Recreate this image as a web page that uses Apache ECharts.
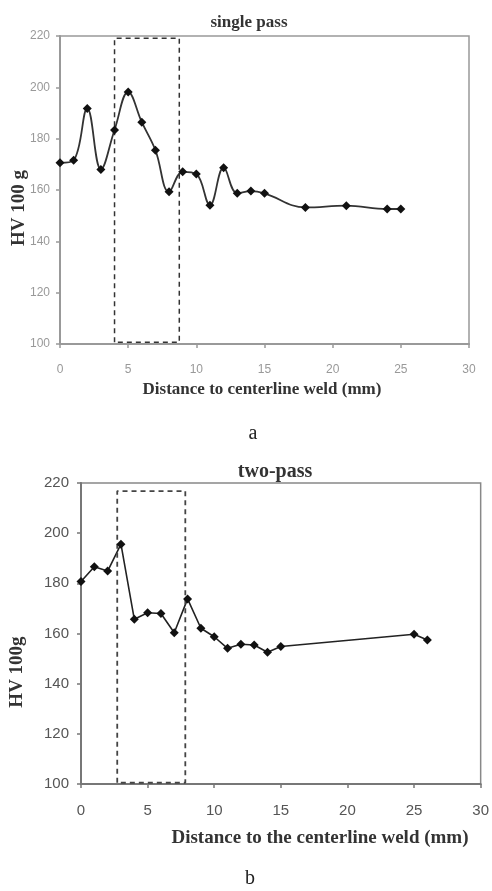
<!DOCTYPE html>
<html>
<head>
<meta charset="utf-8">
<script src="https://cdn.jsdelivr.net/npm/echarts@6/dist/echarts.min.js"></script>
<style>
  html, body { margin: 0; padding: 0; background: #fff; }
  #chart { width: 492px; height: 891px; }
</style>
</head>
<body>
<div id="chart"></div>
<script>
// single pass
const distA = [0, 1, 2, 3, 4, 5, 6, 7, 8, 9, 10, 11, 12, 13, 14, 15, 18, 21, 24, 25];
const hvA = [170.6, 171.6, 191.8, 168, 183.4, 198.2, 186.4, 175.5, 159.3, 167.1, 166.2, 154.1, 168.7, 158.7, 159.6, 158.7, 153.2, 153.9, 152.6, 152.6];
const boxA = [[4, 100.7], [4, 219.1], [8.75, 219.1], [8.75, 100.7], [4, 100.7]];

// two-pass
const distB = [0, 1, 2, 3, 4, 5, 6, 7, 8, 9, 10, 11, 12, 13, 14, 15, 25, 26];
const hvB = [180.7, 186.6, 184.9, 195.6, 165.7, 168.3, 168, 160.3, 173.8, 162.1, 158.7, 154.1, 155.7, 155.4, 152.5, 154.8, 159.7, 157.4];
const boxB = [[2.72, 100.5], [2.72, 216.8], [7.83, 216.8], [7.83, 100.5], [2.72, 100.5]];

const serif = '"Liberation Serif", "DejaVu Serif", serif';
const sans = '"Liberation Sans", Arial, sans-serif';

function pairs(xs, ys) {
    return xs.map((x, i) => [x, ys[i]]);
}

function xAxisOf(gridIndex, labelColor, labelSize, lineColor, margin) {
    return {
        type: 'value', gridIndex: gridIndex, min: 0, max: 30, interval: 5,
        axisLine: { show: true, onZero: false, lineStyle: { color: lineColor, width: 2 } },
        axisTick: { show: true, inside: false, length: 4, lineStyle: { color: lineColor, width: 1.5 } },
        axisLabel: { color: labelColor, fontSize: labelSize, fontFamily: sans, margin: margin },
        splitLine: { show: false }
    };
}

function yAxisOf(gridIndex, labelColor, labelSize, lineColor, margin) {
    return {
        type: 'value', gridIndex: gridIndex, min: 100, max: 220, interval: 20,
        axisLine: { show: true, lineStyle: { color: lineColor, width: 2 } },
        axisTick: { show: true, inside: false, length: 4, lineStyle: { color: lineColor, width: 1.5 } },
        axisLabel: { color: labelColor, fontSize: labelSize, fontFamily: sans, margin: margin },
        splitLine: { show: false }
    };
}

const myChart = echarts.init(document.getElementById('chart'));
var option = {
    animation: false,
    backgroundColor: '#fff',
    title: [
        { text: 'single pass', left: 244, top: 9, textAlign: 'center',
          textStyle: { fontFamily: serif, fontWeight: 'bold', fontSize: 17, color: '#333' } },
        { text: 'two-pass', left: 270, top: 457, textAlign: 'center',
          textStyle: { fontFamily: serif, fontWeight: 'bold', fontSize: 20, color: '#333' } },
        { text: 'a', left: 248, top: 419, textAlign: 'center',
          textStyle: { fontFamily: serif, fontWeight: 'normal', fontSize: 20, color: '#222' } },
        { text: 'b', left: 245, top: 864, textAlign: 'center',
          textStyle: { fontFamily: serif, fontWeight: 'normal', fontSize: 20, color: '#222' } }
    ],
    grid: [
        { left: 60, top: 36, width: 409, height: 308, show: true, borderColor: '#999', borderWidth: 1.5 },
        { left: 81, top: 483, width: 401, height: 301, show: true, borderColor: '#888', borderWidth: 1.5 }
    ],
    xAxis: [
        xAxisOf(0, '#999', 12, '#999', 20),
        xAxisOf(1, '#555', 15, '#777', 19)
    ],
    yAxis: [
        yAxisOf(0, '#999', 12, '#999', 10),
        yAxisOf(1, '#555', 15, '#777', 12)
    ],
    graphic: [
        { type: 'text', x: 19, y: 208, rotation: Math.PI / 2,
          style: { text: 'HV 100 g', font: 'bold 19px ' + serif, fill: '#333', align: 'center', verticalAlign: 'middle' } },
        { type: 'text', x: 17, y: 672, rotation: Math.PI / 2,
          style: { text: 'HV 100g', font: 'bold 19px ' + serif, fill: '#333', align: 'center', verticalAlign: 'middle' } },
        { type: 'text', x: 262, y: 390,
          style: { text: 'Distance to centerline weld (mm)', font: 'bold 17px ' + serif, fill: '#333', align: 'center', verticalAlign: 'middle' } },
        { type: 'text', x: 320, y: 838,
          style: { text: 'Distance to the centerline weld (mm)', font: 'bold 19px ' + serif, fill: '#333', align: 'center', verticalAlign: 'middle' } }
    ],
    series: [
        {
            name: 'single pass', type: 'line', xAxisIndex: 0, yAxisIndex: 0,
            data: pairs(distA, hvA), smooth: 0.4,
            symbol: 'diamond', symbolSize: 9,
            lineStyle: { color: '#333', width: 1.8 },
            itemStyle: { color: '#111' }
        },
        {
            name: 'box a', type: 'line', xAxisIndex: 0, yAxisIndex: 0,
            data: boxA, symbol: 'none',
            lineStyle: { color: '#333', width: 1.5, type: [5, 4] }
        },
        {
            name: 'two-pass', type: 'line', xAxisIndex: 1, yAxisIndex: 1,
            data: pairs(distB, hvB),
            symbol: 'diamond', symbolSize: 9,
            lineStyle: { color: '#222', width: 1.6 },
            itemStyle: { color: '#111' }
        },
        {
            name: 'box b', type: 'line', xAxisIndex: 1, yAxisIndex: 1,
            data: boxB, symbol: 'none',
            lineStyle: { color: '#444', width: 1.8, type: [5, 4] }
        }
    ]
};
myChart.setOption(option);
</script>
</body>
</html>
